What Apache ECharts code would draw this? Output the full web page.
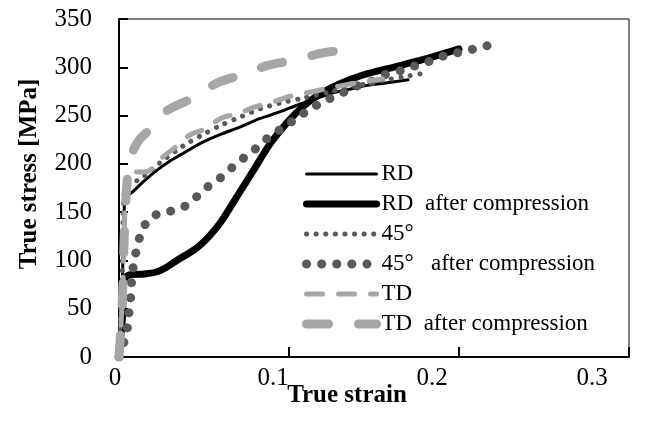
<!DOCTYPE html>
<html>
<head>
<meta charset="utf-8">
<script src="https://cdn.jsdelivr.net/npm/echarts@6/dist/echarts.min.js"></script>
<style>html,body{margin:0;padding:0;background:#fff}#c{width:663px;height:430px}</style>
</head>
<body>
<div id="c"></div>
<script>
const seriesNames = ['RD', 'RD  after compression', '45°', '45°   after compression', 'TD', 'TD  after compression'];
const xTickLabels = ['0', '0.1', '0.2', '0.3'];
const yTicks = [0, 50, 100, 150, 200, 250, 300, 350];

const rd = [[0,0],[0.002,80],[0.003,150],[0.004,165],[0.008,171],[0.014,181],[0.022,193],[0.03,203],[0.036,209],[0.0476,221],[0.059,230],[0.071,238],[0.083,247],[0.095,254],[0.1065,262],[0.115,267],[0.125,273],[0.135,277],[0.145,281],[0.158,284],[0.17,287]];
const rdAfter = [[0,0],[0.002,40],[0.003,80],[0.006,85],[0.015,86],[0.022,88],[0.028,93],[0.034,100],[0.045,112],[0.053,125],[0.06,140],[0.069,165],[0.079,193],[0.089,221],[0.099,243],[0.108,259],[0.118,272],[0.13,283],[0.1435,292],[0.1635,301],[0.183,310],[0.2,319]];
const deg45 = [[0,0],[0.002,90],[0.003,170],[0.006,178],[0.014,186],[0.024,201],[0.034,214],[0.039,220],[0.049,230],[0.06,240],[0.072,249],[0.083,257],[0.095,263],[0.108,268],[0.125,275],[0.14,281],[0.155,286],[0.17,291],[0.18,294]];
const deg45After = [[0,0],[0.003,16],[0.005,31],[0.006,48],[0.007,64],[0.0076,83],[0.009,100],[0.011,116],[0.0135,131],[0.019,145],[0.028,150],[0.0376,155],[0.045,165],[0.052,176],[0.06,186],[0.067,197],[0.0747,208],[0.082,218],[0.089,229],[0.097,238],[0.105,248],[0.1135,258],[0.122,266],[0.132,274],[0.139,280],[0.148,285],[0.156,292],[0.1665,297],[0.175,302],[0.184,307],[0.193,313],[0.202,316],[0.211,320],[0.2206,324]];
const td = [[0,0],[0.002,60],[0.003,120],[0.004,170],[0.0065,191],[0.0165,192],[0.025,206],[0.033,217],[0.0418,230],[0.049,235],[0.061,248],[0.07,252],[0.08,259],[0.0888,263],[0.1006,270],[0.109,273],[0.125,279],[0.14,284],[0.155,288]];
const tdAfter = [[0,0],[0.002,60],[0.003,120],[0.004,160],[0.005,185],[0.008,212],[0.012,225],[0.0165,233],[0.022,245],[0.029,256],[0.043,268],[0.058,284],[0.072,292],[0.0876,302],[0.1035,307.5],[0.12,315],[0.135,318]];

const serif = 'Liberation Serif';
const chart = echarts.init(document.getElementById('c'), null, {renderer: 'canvas'});

const styles = [
  {color: '#000', width: 3, type: 'solid'},
  {color: '#000', width: 7, type: 'solid'},
  {color: '#595959', width: 5, type: [0.1, 9.5]},
  {color: '#595959', width: 9, type: [0.1, 15]},
  {color: '#a6a6a6', width: 5, type: [16, 16]},
  {color: '#a6a6a6', width: 9, type: [22, 30]}
];
const allData = [rd, rdAfter, deg45, deg45After, td, tdAfter];

const series = allData.map((d, i) => ({
  name: seriesNames[i], type: 'line', data: d, symbol: 'none', smooth: 0.3,
  animation: false,
  lineStyle: {color: styles[i].color, width: styles[i].width, type: styles[i].type, cap: 'round', join: 'round'},
  itemStyle: {color: styles[i].color}
}));

const legendData = seriesNames.map((n, i) => ({
  name: n,
  itemStyle: {color: 'rgba(0,0,0,0)', borderColor: 'rgba(0,0,0,0)', borderWidth: 0, opacity: 0},
  lineStyle: {color: styles[i].color, width: styles[i].width, type: styles[i].type, cap: 'round', opacity: 1}
}));

const xRich = {
  l0: {fontFamily: serif, fontSize: 25, color: '#000', padding: [0, 8, 0, 0]},
  l1: {fontFamily: serif, fontSize: 25, color: '#000', padding: [0, 32, 0, 0]},
  l2: {fontFamily: serif, fontSize: 25, color: '#000', padding: [0, 54, 0, 0]},
  l3: {fontFamily: serif, fontSize: 25, color: '#000', padding: [0, 74, 0, 0]}
};

chart.setOption({
  animation: false,
  backgroundColor: '#fff',
  grid: {left: 119, right: 34, top: 19, bottom: 73, show: true, borderColor: '#000', borderWidth: 1},
  xAxis: {
    type: 'value', min: 0, max: 0.3, interval: 0.1,
    name: 'True strain', nameLocation: 'middle', nameGap: 26, nameMoveOverlap: false,
    nameTextStyle: {fontFamily: serif, fontWeight: 'bold', fontSize: 25, color: '#000', padding: [0, 54, 0, 0]},
    axisLine: {show: true, lineStyle: {color: '#000', width: 2}},
    axisTick: {show: true, inside: true, length: 10, lineStyle: {color: '#000', width: 2}},
    axisLabel: {fontFamily: serif, fontSize: 25, color: '#000', margin: 9, rich: xRich,
      formatter: (v) => {
        const i = Math.round(v * 10);
        return '{l' + i + '|' + xTickLabels[i] + '}';
      }},
    splitLine: {show: false}
  },
  yAxis: {
    type: 'value', min: 0, max: 350, interval: 50,
    name: 'True stress [MPa]', nameLocation: 'middle', nameGap: 77, nameRotate: 90,
    nameTextStyle: {fontFamily: serif, fontWeight: 'bold', fontSize: 25, color: '#000', padding: [0, 0, 0, 28]},
    axisLine: {show: true, lineStyle: {color: '#000', width: 2}},
    axisTick: {show: true, inside: true, length: 9, lineStyle: {color: '#000', width: 2}},
    axisLabel: {fontFamily: serif, fontSize: 25, color: '#000', margin: 27},
    splitLine: {show: false}
  },
  legend: {
    left: 297, top: 157, orient: 'vertical', itemWidth: 70, itemHeight: 14, itemGap: 6,
    textStyle: {fontFamily: serif, fontSize: 23, color: '#000', lineHeight: 24},
    data: legendData
  },
  series: series
});
</script>
</body>
</html>
